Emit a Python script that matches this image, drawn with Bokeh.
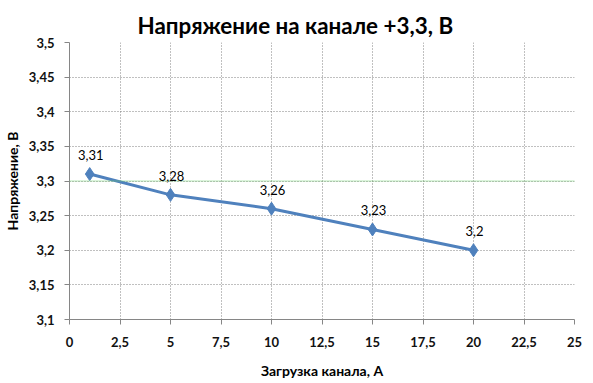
from bokeh.plotting import figure
from bokeh.models import FixedTicker, CustomJSTickFormatter, Span, ColumnDataSource, LabelSet
from bokeh.core.properties import value
from bokeh.embed import file_html
from bokeh.resources import INLINE

load_a = [1, 5, 10, 15, 20]
voltage = [3.31, 3.28, 3.26, 3.23, 3.2]
labels = ["3,31", "3,28", "3,26", "3,23", "3,2"]
x_ticks = [0, 2.5, 5, 7.5, 10, 12.5, 15, 17.5, 20, 22.5, 25]
y_ticks = [3.1, 3.15, 3.2, 3.25, 3.3, 3.35, 3.4, 3.45, 3.5]
nominal = 3.3
title_text = "Напряжение на канале +3,3, В"

FONT = "Lato"
W, H = 582, 381

p = figure(width=W, height=H, output_backend="svg", toolbar_location=None,
           x_range=(0, 25), y_range=(3.1, 3.5), title=title_text,
           min_border_left=68, min_border_right=8, min_border_top=42, min_border_bottom=55)
p.outline_line_color = None
p.background_fill_color = "white"
p.border_fill_color = "white"

p.title.align = "left"
p.title.offset = 68
p.title.vertical_align = "top"
p.title.standoff = 4
p.title.text_font = FONT
p.title.text_font_size = "22.4px"
p.title.text_font_style = "bold"
p.title.text_color = "black"

fmt = CustomJSTickFormatter(code="return String(Math.round(tick*100)/100).replace('.', ',');")
for ax, ticks in ((p.xaxis[0], x_ticks), (p.yaxis[0], y_ticks)):
    ax.ticker = FixedTicker(ticks=ticks)
    ax.formatter = fmt
    ax.axis_line_color = "#868686"
    ax.major_tick_line_color = "#868686"
    ax.major_tick_out = 5
    ax.major_tick_in = 0
    ax.minor_tick_line_color = None
    ax.major_label_text_font = FONT
    ax.major_label_text_font_style = "bold"
    ax.major_label_text_font_size = "13px"
    ax.major_label_text_color = "#111111"
    ax.axis_label_text_font = FONT
    ax.axis_label_text_font_style = "bold"
    ax.axis_label_text_font_size = "14px"
    ax.axis_label_text_color = "black"

p.xaxis.axis_label = "Загрузка канала, А"
p.yaxis.axis_label = "Напряжение, В"
p.xaxis.major_label_standoff = 12
p.yaxis.major_label_standoff = 10
p.xaxis.axis_label_standoff = 12

for g in (p.xgrid[0], p.ygrid[0]):
    g.grid_line_color = "#808080"
    g.grid_line_dash = "1 2"
    g.grid_line_width = 1

p.add_layout(Span(location=nominal, dimension="width", line_color="#6fd06f",
                  line_width=1, line_dash="1 1"))

src = ColumnDataSource(dict(x=load_a, y=voltage, t=labels))
p.line("x", "y", source=src, line_color="#4F81BD", line_width=3)
p.scatter("x", "y", source=src, marker="diamond", size=13, fill_color="#4F81BD",
          line_color="#4F81BD")
p.add_layout(LabelSet(x="x", y="y", text="t", source=src, y_offset=14, x_offset=1,
                      text_align="center", text_baseline="bottom",
                      text_font=value(FONT), text_font_size=value("13px"),
                      text_color="black"))

open("out.html", "w").write(file_html(p, INLINE))
